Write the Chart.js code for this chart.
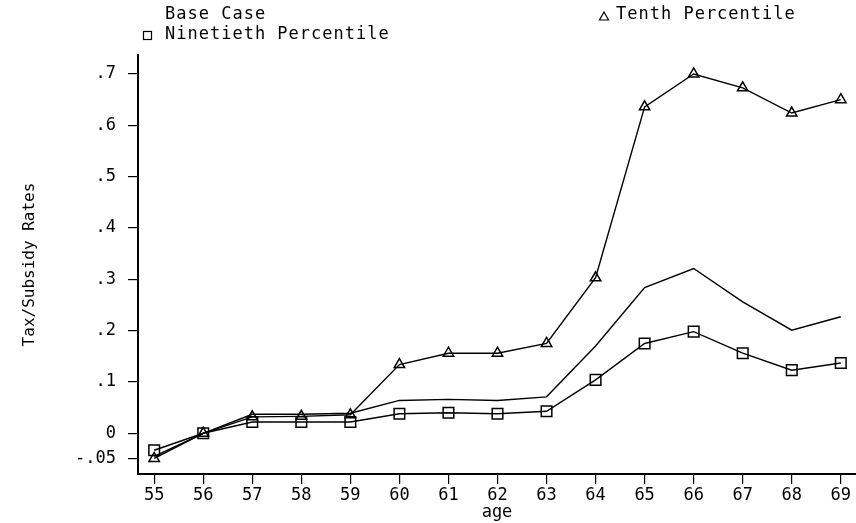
<!DOCTYPE html>
<html>
<head>
<meta charset="utf-8">
<script src="https://cdn.jsdelivr.net/npm/chart.js@4/dist/chart.umd.min.js"></script>
<style>
  html, body { margin: 0; padding: 0; background: #fff; }
  #wrap { width: 856px; height: 523px; }
</style>
</head>
<body>
<div id="wrap"><canvas id="c" width="856" height="523"></canvas></div>
<script>
// ---- data ----
const ages = [55, 56, 57, 58, 59, 60, 61, 62, 63, 64, 65, 66, 67, 68, 69];
const baseCase = [-0.045, 0.0, 0.037, 0.037, 0.039, 0.064, 0.066, 0.064, 0.071, 0.170, 0.284, 0.321, 0.256, 0.201, 0.227];
const tenthPct = [-0.049, 0.0, 0.032, 0.033, 0.036, 0.134, 0.156, 0.156, 0.175, 0.303, 0.636, 0.700, 0.673, 0.624, 0.650];
const ninetiethPct = [-0.033, 0.0, 0.022, 0.022, 0.022, 0.038, 0.040, 0.038, 0.043, 0.104, 0.175, 0.198, 0.156, 0.123, 0.137];
const yTicks = [-0.05, 0, 0.1, 0.2, 0.3, 0.4, 0.5, 0.6, 0.7];
const seriesLabels = ['Base Case', 'Tenth Percentile', 'Ninetieth Percentile'];
const xTitle = 'age';
const yTitle = 'Tax/Subsidy Rates';

const FONT = "'DejaVu Sans Mono', 'Liberation Mono', monospace";

function pts(arr) { return ages.map((a, i) => ({ x: a, y: arr[i] })); }

function fmtY(v) {
  if (Math.abs(v) < 1e-9) return '0';
  let s = String(Math.round(v * 1000) / 1000);
  return s.replace('0.', '.');
}

const legendPlugin = {
  id: 'customLegend',
  afterDraw(chart) {
    const ctx = chart.ctx;
    const ds = chart.data.datasets;
    ctx.save();
    ctx.fillStyle = '#000';
    ctx.strokeStyle = '#000';
    ctx.font = '17px ' + FONT;
    try { ctx.letterSpacing = '1px'; } catch (e) {}
    ctx.textBaseline = 'middle';
    ctx.textAlign = 'left';
    // Base Case (no marker)
    ctx.fillText(ds[0].label, 165, 15);
    // Tenth Percentile (triangle)
    ctx.lineWidth = 1.2;
    ctx.beginPath();
    ctx.moveTo(604, 12); ctx.lineTo(608.5, 20); ctx.lineTo(599.5, 20); ctx.closePath();
    ctx.stroke();
    ctx.fillText(ds[1].label, 616, 15);
    // Ninetieth Percentile (square)
    ctx.strokeRect(143.5, 31.5, 8, 8);
    ctx.fillText(ds[2].label, 165, 35);
    ctx.restore();
  }
};

new Chart(document.getElementById('c'), {
  type: 'line',
  data: {
    datasets: [
      { label: seriesLabels[0], data: pts(baseCase), borderColor: '#000', borderWidth: 1.4,
        pointRadius: 0, fill: false, tension: 0 },
      { label: seriesLabels[1], data: pts(tenthPct), borderColor: '#000', borderWidth: 1.4,
        pointStyle: 'triangle', pointRadius: 6, pointBorderWidth: 1.5,
        pointBackgroundColor: 'rgba(255,255,255,0)', pointBorderColor: '#000', fill: false, tension: 0 },
      { label: seriesLabels[2], data: pts(ninetiethPct), borderColor: '#000', borderWidth: 1.4,
        pointStyle: 'rect', pointRadius: 7.5, pointBorderWidth: 1.5,
        pointBackgroundColor: 'rgba(255,255,255,0)', pointBorderColor: '#000', fill: false, tension: 0 }
    ]
  },
  options: {
    responsive: false,
    animation: false,
    layout: { autoPadding: false, padding: { top: 55, right: 0, left: 0, bottom: 0 } },
    plugins: { legend: { display: false }, tooltip: { enabled: false } },
    scales: {
      x: {
        type: 'linear',
        min: 54.67,
        max: 69.31,
        afterBuildTicks(scale) { scale.ticks = ages.map(v => ({ value: v })); },
        afterFit(scale) { scale.height = 49; scale.paddingLeft = 0; scale.paddingRight = 0; },
        ticks: { color: '#000', font: { family: FONT, size: 17 }, padding: 1, maxRotation: 0,
                 autoSkip: false, callback: v => String(v) },
        grid: { display: true, drawOnChartArea: false, drawTicks: true, tickLength: 10,
                color: '#000', lineWidth: 1.2 },
        border: { display: true, color: '#000', width: 2 },
        title: { display: true, text: xTitle, color: '#000', font: { family: FONT, size: 17 },
                 padding: { top: 0, bottom: 0 } }
      },
      y: {
        type: 'linear',
        min: -0.0793,
        max: 0.737,
        afterBuildTicks(scale) { scale.ticks = yTicks.map(v => ({ value: v })); },
        afterFit(scale) { scale.width = 138; scale.paddingTop = 0; scale.paddingBottom = 0; },
        ticks: { color: '#000', font: { family: FONT, size: 17 }, padding: 12,
                 autoSkip: false, callback: v => fmtY(v) },
        grid: { display: true, drawOnChartArea: false, drawTicks: true, tickLength: 10,
                color: '#000', lineWidth: 1.2 },
        border: { display: true, color: '#000', width: 2 },
        title: { display: true, text: yTitle, color: '#000', font: { family: FONT, size: 16 },
                 padding: { top: 20, bottom: 0 } }
      }
    }
  },
  plugins: [legendPlugin]
});
</script>
</body>
</html>
